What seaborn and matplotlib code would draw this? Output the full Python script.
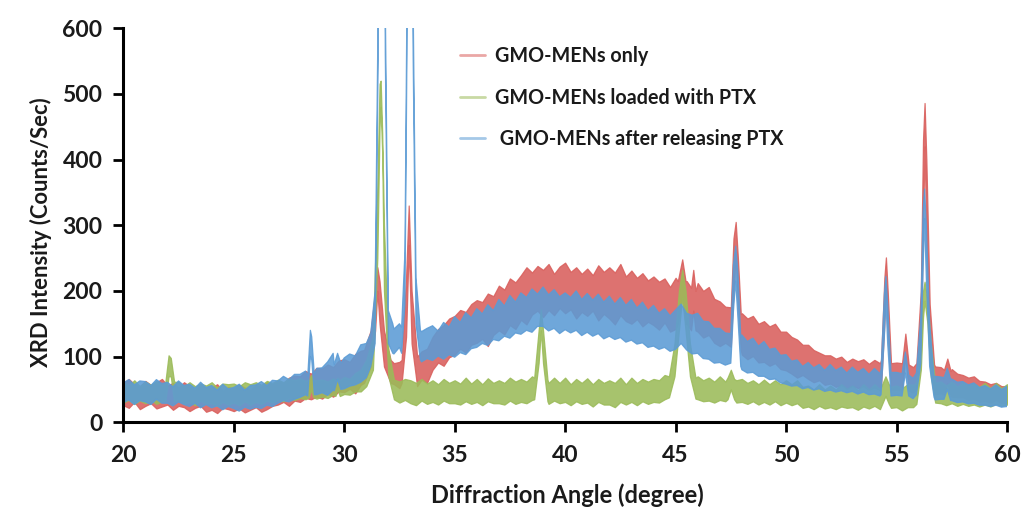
import numpy as np
import pandas as pd
import matplotlib
matplotlib.use("Agg")
import matplotlib.pyplot as plt
import seaborn as sns

# ---------------- data ----------------
ANGLE = np.round(np.arange(20.0, 60.001, 0.25), 2)   # background grid, degrees (4 per row below)

SERIES = ["GMO-MENs only", "GMO-MENs loaded with PTX", " GMO-MENs after releasing PTX"]

# noise-band envelopes (lower / upper) on the background grid, counts/sec
RED_LO = [26, 22, 31, 20, 25, 29, 21, 24, 27, 19, 25, 23, 17, 22, 25, 16,
          19, 14, 22, 20, 17, 21, 15, 19, 23, 16, 20, 25, 27, 31, 25, 33,
          31, 37, 35, 39, 36, 43, 39, 47, 46, 51, 44, 57, 62, 70, 85, 90,
          70, 58, 52, 60, 70, 52, 65, 60, 80, 91, 86, 99, 103, 112, 106, 118,
          121, 127, 116, 133, 140, 134, 148, 142, 156, 149, 164, 170, 160, 171, 163, 174,
          166, 172, 158, 168, 162, 170, 155, 165, 158, 149, 163, 154, 150, 157, 146, 153,
          148, 141, 152, 138, 142, 150, 150, 145, 138, 129, 133, 121, 116, 121, 110, 104,
          103, 96, 101, 91, 92, 86, 90, 81, 79, 74, 68, 72, 66, 61, 64, 57,
          59, 54, 57, 51, 56, 52, 55, 49, 53, 49, 52, 47, 50, 48, 47, 45,
          46, 47, 48, 43, 44, 42, 39, 38, 38, 34, 36, 31, 33, 30, 34, 29, 30]
RED_HI = [60, 66, 58, 55, 63, 57, 61, 66, 56, 60, 53, 61, 55, 49, 58, 52,
          53, 58, 48, 54, 51, 57, 53, 49, 57, 54, 61, 58, 63, 60, 68, 71,
          70, 78, 74, 83, 82, 88, 84, 94, 96, 92, 104, 109, 112, 120, 200, 150,
          100, 90, 92, 95, 140, 100, 108, 112, 130, 142, 148, 158, 162, 171, 168, 180,
          186, 183, 196, 192, 208, 202, 219, 213, 224, 236, 228, 238, 232, 241, 226, 237,
          243, 229, 236, 226, 234, 224, 239, 229, 236, 228, 241, 222, 231, 220, 227, 216,
          222, 214, 219, 206, 220, 230, 215, 220, 212, 200, 206, 188, 184, 176, 172, 168,
          166, 158, 162, 150, 154, 146, 150, 138, 138, 130, 126, 118, 118, 110, 106, 102,
          102, 97, 100, 92, 97, 93, 96, 89, 95, 90, 93, 92, 91, 135, 88, 84,
          86, 200, 180, 85, 84, 95, 81, 74, 72, 68, 70, 63, 62, 58, 60, 55, 55]

GREEN_LO = [30, 34, 28, 33, 29, 34, 28, 32, 32, 30, 34, 28, 31, 26, 33, 28,
            29, 25, 31, 27, 30, 26, 32, 27, 31, 28, 33, 30, 34, 32, 37, 34,
            37, 35, 40, 36, 39, 37, 42, 40, 43, 42, 47, 47, 55, 70, 200, 400,
            70, 35, 30, 34, 29, 26, 33, 28, 31, 27, 33, 29, 29, 27, 32, 28,
            31, 26, 32, 29, 29, 27, 33, 28, 31, 29, 34, 31, 30, 28, 33, 29,
            31, 26, 32, 28, 30, 24, 31, 27, 27, 23, 31, 27, 31, 26, 32, 28,
            31, 30, 35, 40, 70, 160, 140, 70, 35, 32, 33, 30, 34, 32, 35, 30,
            31, 28, 32, 27, 31, 27, 32, 26, 30, 26, 29, 22, 24, 20, 25, 21,
            23, 20, 24, 22, 23, 19, 24, 21, 25, 20, 30, 22, 23, 18, 23, 23,
            30, 120, 120, 35, 29, 26, 29, 25, 28, 25, 27, 24, 27, 24, 28, 25, 27]
GREEN_HI = [62, 56, 64, 55, 62, 57, 63, 56, 100, 58, 61, 55, 61, 55, 59, 56,
            61, 53, 59, 58, 59, 55, 61, 58, 61, 57, 63, 60, 65, 61, 67, 64,
            67, 63, 70, 64, 65, 62, 67, 64, 69, 66, 75, 80, 90, 130, 360, 520,
            110, 68, 62, 66, 64, 60, 66, 59, 64, 58, 66, 60, 64, 59, 68, 59,
            66, 58, 67, 60, 64, 60, 68, 62, 66, 62, 70, 63, 66, 60, 68, 60,
            68, 58, 66, 60, 67, 58, 66, 60, 64, 60, 68, 58, 68, 60, 66, 62,
            66, 64, 72, 75, 120, 230, 200, 120, 70, 64, 68, 62, 70, 62, 80, 64,
            66, 60, 64, 58, 65, 58, 64, 58, 64, 58, 64, 54, 56, 50, 58, 50,
            56, 50, 58, 51, 56, 49, 58, 50, 58, 50, 70, 54, 56, 52, 58, 57,
            80, 190, 150, 62, 62, 56, 62, 54, 60, 56, 59, 54, 60, 52, 60, 52, 58]

BLUE_LO = [30, 34, 27, 33, 31, 27, 35, 29, 29, 25, 31, 27, 24, 29, 22, 27,
           22, 25, 19, 24, 21, 17, 23, 20, 23, 21, 26, 24, 29, 33, 31, 35,
           38, 42, 45, 42, 45, 41, 49, 51, 51, 55, 57, 61, 68, 80, 120, 150,
           110, 104, 114, 102, 120, 100, 92, 97, 94, 101, 96, 103, 99, 106, 103, 112,
           114, 120, 117, 126, 124, 131, 128, 136, 134, 140, 137, 146, 146, 139, 143, 135,
           141, 136, 140, 132, 137, 131, 135, 127, 131, 126, 129, 122, 125, 119, 121, 114,
           116, 111, 114, 108, 111, 120, 110, 104, 105, 97, 96, 90, 91, 87, 89, 82,
           80, 75, 76, 70, 70, 65, 66, 60, 58, 55, 56, 51, 53, 49, 51, 47,
           49, 46, 48, 45, 47, 43, 46, 42, 43, 40, 41, 38, 41, 38, 41, 36,
           39, 40, 40, 34, 35, 35, 33, 30, 31, 28, 29, 26, 26, 24, 26, 23, 24]
BLUE_HI = [60, 65, 57, 63, 62, 56, 65, 59, 61, 54, 63, 56, 58, 52, 61, 53,
           56, 49, 58, 51, 53, 58, 49, 56, 57, 62, 56, 64, 63, 70, 65, 73,
           73, 78, 140, 82, 83, 92, 105, 95, 98, 104, 101, 118, 120, 130, 200, 300,
           160, 142, 150, 139, 300, 150, 138, 143, 147, 139, 152, 145, 161, 152, 167, 159,
           173, 165, 179, 170, 187, 177, 193, 183, 197, 190, 203, 195, 206, 194, 202, 191,
           197, 190, 200, 187, 196, 186, 195, 183, 192, 180, 190, 178, 187, 174, 183, 170,
           178, 166, 173, 162, 171, 180, 166, 163, 166, 154, 153, 143, 143, 136, 138, 135,
           133, 123, 128, 116, 123, 111, 113, 102, 103, 93, 95, 85, 91, 83, 88, 79,
           88, 79, 84, 75, 84, 76, 82, 73, 82, 74, 78, 76, 76, 105, 74, 67,
           73, 150, 150, 70, 69, 80, 66, 61, 62, 57, 60, 53, 56, 51, 57, 50, 55]

# diffraction peaks: (angles, lower envelope, upper envelope)
RED_PEAKS = [
    ([30.9, 31.2, 31.4, 31.5, 31.6, 31.8, 32.1], [60, 85, 140, 200, 150, 85, 60], [110, 140, 200, 236, 215, 140, 95]),
    ([32.6, 32.8, 32.92, 33.05, 33.3], [60, 130, 270, 120, 55], [95, 220, 330, 200, 100]),
    ([45.1, 45.3, 45.45], [150, 190, 150], [215, 248, 215]),
    ([45.7, 45.8, 45.9], [140, 170, 140], [205, 232, 200]),
    ([47.5, 47.62, 47.72, 47.82, 47.95], [115, 200, 250, 180, 110], [175, 280, 305, 250, 165]),
    ([54.3, 54.45, 54.52, 54.6, 54.75], [55, 150, 210, 140, 50], [95, 220, 251, 200, 90]),
    ([55.25, 55.4, 55.55], [50, 100, 48], [90, 135, 88]),
    ([55.9, 56.1, 56.2, 56.27, 56.35, 56.5, 56.7], [50, 110, 300, 420, 280, 100, 48], [90, 200, 430, 486, 400, 180, 88]),
    ([57.15, 57.3, 57.45], [42, 60, 40], [80, 97, 78]),
]
GREEN_PEAKS = [
    ([21.9, 22.05, 22.15, 22.3], [32, 70, 70, 32], [60, 102, 98, 62]),
    ([28.4, 28.5, 28.6], [38, 50, 38], [64, 72, 64]),
    ([29.6, 29.7, 29.8], [40, 50, 40], [64, 68, 64]),
    ([31.0, 31.3, 31.5, 31.6, 31.65, 31.72, 31.8, 32.0, 32.25], [55, 80, 250, 450, 480, 410, 200, 70, 35], [95, 130, 360, 515, 520, 440, 300, 110, 65]),
    ([38.6, 38.8, 38.9, 39.0, 39.2], [35, 90, 140, 90, 32], [68, 140, 172, 140, 65]),
    ([44.7, 44.95, 45.15, 45.3, 45.45, 45.65, 45.9], [38, 70, 140, 190, 140, 70, 36], [70, 120, 200, 232, 200, 120, 68]),
    ([47.35, 47.5, 47.65], [35, 50, 35], [68, 80, 66]),
    ([54.35, 54.5, 54.65], [28, 40, 28], [58, 70, 58]),
    ([55.9, 56.1, 56.2, 56.27, 56.4, 56.55, 56.75], [28, 80, 160, 185, 150, 70, 30], [60, 130, 200, 214, 185, 120, 60]),
]
BLUE_PEAKS = [
    ([28.35, 28.47, 28.53, 28.65], [40, 100, 95, 42], [70, 140, 130, 72]),
    ([29.55, 29.7, 29.85], [48, 65, 50], [88, 105, 90]),
    ([31.2, 31.4, 31.54, 31.7, 31.86, 32.0, 32.2], [85, 120, 560, 1900, 560, 120, 105], [135, 200, 640, 2000, 640, 170, 150]),
    ([32.6, 32.75, 32.84, 32.97, 33.12, 33.25, 33.45], [105, 180, 560, 1900, 560, 150, 95], [145, 260, 640, 2000, 640, 220, 140]),
    ([47.5, 47.62, 47.72, 47.82, 47.95], [90, 170, 215, 160, 85], [135, 240, 268, 230, 130]),
    ([54.3, 54.45, 54.52, 54.6, 54.75], [42, 130, 185, 120, 40], [80, 195, 222, 180, 76]),
    ([55.25, 55.4, 55.55], [40, 75, 40], [74, 107, 72]),
    ([55.9, 56.1, 56.2, 56.27, 56.35, 56.5, 56.7], [42, 90, 230, 310, 220, 85, 38], [75, 160, 320, 355, 300, 150, 70]),
    ([57.15, 57.3, 57.45], [35, 50, 33], [68, 82, 66]),
]

COLORS = ["#D95F5C", "#9BBB59", "#5B9BD5"]
X_TICKS = [20, 25, 30, 35, 40, 45, 50, 55, 60]
Y_TICKS = [0, 100, 200, 300, 400, 500, 600]

for arr in (RED_LO, RED_HI, GREEN_LO, GREEN_HI, BLUE_LO, BLUE_HI):
    assert len(arr) == len(ANGLE), len(arr)


def build(name, lo, hi, peaks):
    pts = {float(x): (l, h) for x, l, h in zip(ANGLE, lo, hi)}
    for px, pl, ph in peaks:
        a, b = min(px), max(px)
        pts = {x: v for x, v in pts.items() if not (a <= x <= b)}
        for x, l, h in zip(px, pl, ph):
            pts[float(x)] = (l, h)
    rows = []
    for x in sorted(pts):
        l, h = pts[x]
        rows.append((name, x, l))
        rows.append((name, x, h))
    return pd.DataFrame(rows, columns=["series", "angle", "intensity"])


frames = [
    build(SERIES[0], RED_LO, RED_HI, RED_PEAKS),
    build(SERIES[1], GREEN_LO, GREEN_HI, GREEN_PEAKS),
    build(SERIES[2], BLUE_LO, BLUE_HI, BLUE_PEAKS),
]

# ---------------- style ----------------
sns.set_style("ticks")
plt.rcParams["font.family"] = ["Lato", "DejaVu Sans"]
plt.rcParams["font.weight"] = "bold"

fig = plt.figure(figsize=(10.29, 5.13), dpi=100)
ax = fig.add_axes([0.1198, 0.1768, 0.8588, 0.7684])

for df, c, name in zip(frames, COLORS, SERIES):
    sns.lineplot(data=df, x="angle", y="intensity", estimator="mean",
                 errorbar=("pi", 100), color=c, linewidth=0,
                 err_kws={"alpha": 0.88, "linewidth": 0.9, "edgecolor": c},
                 label=name, ax=ax)

ax.set_xlim(20, 60)
ax.set_ylim(0, 600)
ax.set_xticks(X_TICKS)
ax.set_yticks(Y_TICKS)
ax.tick_params(axis="both", direction="out", length=7, width=2, color="black",
               labelsize=16.5, labelcolor="#1a1a1a")
ax.tick_params(axis="y", pad=8)
ax.tick_params(axis="x", pad=9)
for lab in ax.get_xticklabels() + ax.get_yticklabels():
    lab.set_fontweight("bold")
for side in ["top", "right"]:
    ax.spines[side].set_visible(False)
for side in ["left", "bottom"]:
    ax.spines[side].set_linewidth(2.2)
    ax.spines[side].set_color("black")

ax.set_xlabel("Diffraction Angle (degree)", fontsize=17, fontweight="bold", color="#1a1a1a")
ax.set_ylabel("XRD Intensity (Counts/Sec)", fontsize=15.8, fontweight="bold", color="#1a1a1a")
ax.xaxis.set_label_coords(0.503, -0.155)
ax.yaxis.set_label_coords(-0.081, 0.483)

leg = ax.legend(loc="upper left", bbox_to_anchor=(0.361, 1.0), frameon=False,
                fontsize=14.2, handlelength=1.25, handletextpad=0.5, labelspacing=1.1,
                borderpad=0.4)
for t in leg.get_texts():
    t.set_fontweight("bold")
    t.set_color("#1a1a1a")
for h, c in zip(leg.get_lines(), COLORS):
    h.set_color(c)
    h.set_alpha(0.55)
    h.set_linewidth(2)

fig.savefig("out.png", dpi=100)
